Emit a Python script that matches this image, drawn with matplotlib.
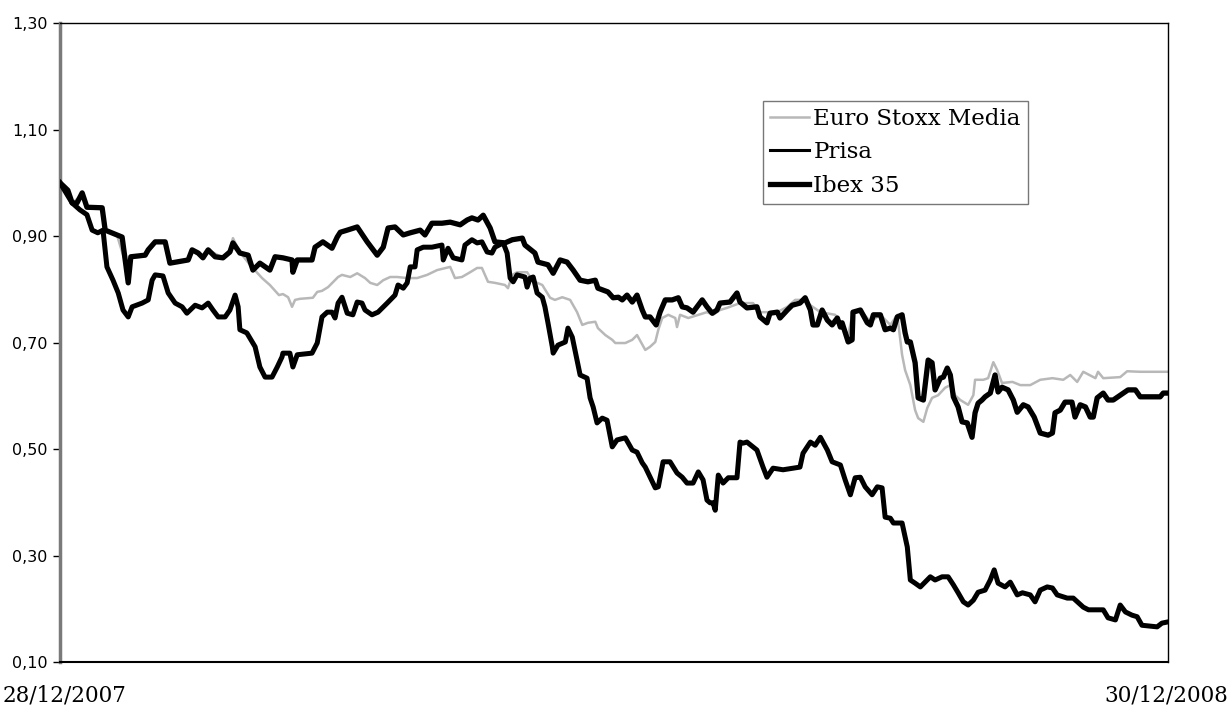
import matplotlib.pyplot as plt
from matplotlib.ticker import FixedLocator, FuncFormatter

# sesiones bursátiles desde 28/12/2007 (0) hasta 30/12/2008 (255), base 1
ibex_dias = [0, 1.8, 2.8, 3.9, 5.1, 6.2, 9.7, 10.4, 13.1, 14.3, 15.0, 15.7, 16.3, 19.6,
             20.3, 21.9, 24.2, 25.3, 29.5, 30.4, 31.8, 32.9, 34.1, 35.7, 37.5, 39.1, 39.8,
             41.4, 43.3, 44.4, 46.0, 48.3, 49.5, 51.3, 53.4, 53.6, 54.6, 58.0, 58.7, 60.5,
             62.6, 63.8, 64.5, 66.1, 68.4, 70.7, 73.0, 74.4, 75.5, 77.1, 79.0, 80.6, 82.9,
             84.0, 85.6, 87.9, 89.8, 92.1, 93.7, 94.8, 96.2, 97.4, 99.0, 100.1, 102.4,
             104.1, 106.4, 107.0, 109.3, 110.0, 112.3, 113.5, 115.1, 116.7, 118.1, 119.7,
             121.5, 123.2, 123.8, 126.1, 127.3, 128.5, 129.4, 130.5, 131.7, 132.8, 134.0,
             134.7, 135.8, 137.2, 138.1, 139.3, 140.9, 142.3, 143.2, 144.3, 145.7, 147.8,
             148.9, 150.1, 151.2, 151.9, 154.2, 155.8, 156.5, 158.1, 160.4, 161.1, 162.7,
             163.4, 165.1, 165.7, 167.4, 168.5, 170.3, 171.5, 172.7, 173.3, 174.3, 175.4,
             176.6, 177.7, 178.9, 179.6, 180.0, 181.4, 182.3, 182.5, 184.2, 185.8, 186.5,
             187.2, 188.8, 189.9, 191.1, 191.8, 192.7, 193.8, 194.5, 195.0, 195.7, 196.8,
             197.5, 198.7, 199.8, 200.7, 201.4, 202.6, 203.3, 204.2, 204.9, 205.6, 206.7,
             207.6, 208.8, 209.9, 210.6, 211.3, 212.2, 212.9, 214.1, 215.2, 215.9, 216.8,
             218.2, 219.4, 220.3, 221.7, 222.8, 224.2, 225.6, 227.4, 228.4, 229.0, 230.2,
             231.3, 232.9, 233.6, 234.8, 236.0, 237.1, 237.8, 238.7, 240.1, 241.2, 242.4,
             244.0, 245.8, 247.5, 248.6, 250.9, 253.2, 253.9, 254.8]
ibex = [1.00, 0.986, 0.962, 0.962, 0.981, 0.954, 0.953, 0.911, 0.902, 0.898, 0.855, 0.812,
        0.861, 0.864, 0.874, 0.889, 0.889, 0.849, 0.855, 0.874, 0.868, 0.859, 0.874, 0.861,
        0.859, 0.870, 0.887, 0.868, 0.864, 0.836, 0.849, 0.836, 0.861, 0.859, 0.855, 0.832,
        0.855, 0.855, 0.879, 0.889, 0.877, 0.898, 0.907, 0.911, 0.917, 0.889, 0.864, 0.879,
        0.915, 0.917, 0.902, 0.906, 0.911, 0.902, 0.924, 0.924, 0.926, 0.921, 0.930, 0.934,
        0.930, 0.939, 0.915, 0.889, 0.887, 0.893, 0.896, 0.883, 0.868, 0.851, 0.846, 0.830,
        0.855, 0.851, 0.836, 0.817, 0.814, 0.817, 0.802, 0.795, 0.784, 0.785, 0.780, 0.789,
        0.776, 0.789, 0.761, 0.748, 0.748, 0.733, 0.757, 0.780, 0.780, 0.784, 0.767, 0.765,
        0.757, 0.780, 0.767, 0.755, 0.761, 0.774, 0.776, 0.793, 0.776, 0.765, 0.767, 0.748,
        0.737, 0.755, 0.757, 0.746, 0.761, 0.770, 0.774, 0.784, 0.761, 0.733, 0.733, 0.761,
        0.742, 0.733, 0.746, 0.729, 0.737, 0.701, 0.705, 0.757, 0.761, 0.737, 0.733, 0.752,
        0.752, 0.724, 0.727, 0.724, 0.748, 0.752, 0.718, 0.701, 0.701, 0.662, 0.596, 0.592,
        0.667, 0.662, 0.611, 0.633, 0.635, 0.652, 0.639, 0.598, 0.579, 0.551, 0.549, 0.522,
        0.568, 0.586, 0.592, 0.598, 0.605, 0.639, 0.607, 0.616, 0.611, 0.592, 0.569, 0.583,
        0.579, 0.560, 0.530, 0.526, 0.530, 0.568, 0.573, 0.588, 0.588, 0.560, 0.583, 0.579,
        0.560, 0.560, 0.596, 0.605, 0.592, 0.592, 0.601, 0.611, 0.611, 0.598, 0.598, 0.598,
        0.605, 0.605]

prisa_dias = [0, 2.8, 4.6, 6.2, 7.4, 8.7, 9.9, 10.8, 12.2, 13.4, 14.5, 15.7, 16.6, 18.9,
              20.3, 21.2, 21.9, 23.7, 24.9, 26.5, 28.1, 29.2, 31.1, 32.7, 34.1, 35.2, 36.4,
              38.0, 39.1, 40.3, 41.0, 41.4, 43.0, 44.9, 46.0, 47.2, 48.8, 50.0, 51.1, 51.3,
              52.9, 53.6, 54.6, 58.0, 59.2, 60.3, 61.5, 62.6, 63.3, 64.0, 64.9, 66.1, 67.4,
              68.4, 69.5, 70.2, 71.8, 73.2, 75.3, 77.1, 77.8, 79.0, 79.9, 80.6, 81.7, 82.2,
              83.6, 85.6, 87.9, 88.2, 89.3, 90.5, 92.5, 93.2, 94.8, 96.0, 97.1, 98.3, 99.4,
              100.1, 102.0, 102.9, 103.6, 104.3, 105.2, 107.0, 107.5, 108.2, 108.9, 109.8,
              111.0, 111.6, 112.3, 113.3, 113.5, 114.6, 116.3, 116.9, 117.9, 119.0, 119.7,
              121.3, 122.0, 122.7, 123.6, 124.8, 125.9, 127.1, 128.2, 130.1, 131.7, 132.8,
              134.0, 134.7, 137.0, 137.7, 138.8, 140.4, 142.0, 143.2, 144.3, 145.7, 146.9,
              148.0, 148.9, 149.6, 150.3, 150.8, 151.5, 152.6, 153.8, 155.8, 156.5, 157.2,
              158.1, 160.4, 161.8, 162.7, 164.1, 166.4, 168.7, 170.3, 171.0, 172.7, 173.8,
              175.0, 176.6, 177.7, 179.6, 180.7, 181.9, 183.0, 184.2, 185.3, 186.9, 188.1,
              189.2, 189.9, 191.1, 191.8, 193.8, 195.0, 195.7, 196.8, 198.0, 199.1, 200.3,
              201.4, 203.0, 204.4, 205.6, 206.7, 207.9, 209.0, 210.2, 211.3, 212.9, 214.1,
              215.0, 215.9, 217.5, 218.7, 220.3, 221.5, 223.3, 224.4, 225.6, 227.2, 228.4,
              229.5, 231.8, 233.2, 235.5, 236.7, 240.1, 241.2, 242.9, 244.0, 245.2, 246.7,
              247.9, 249.0, 252.5, 253.6, 254.8]
prisa = [1.00, 0.962, 0.949, 0.940, 0.911, 0.906, 0.911, 0.842, 0.817, 0.793, 0.761, 0.748,
         0.767, 0.774, 0.780, 0.817, 0.827, 0.825, 0.793, 0.774, 0.767, 0.755, 0.770, 0.765,
         0.774, 0.761, 0.748, 0.748, 0.761, 0.789, 0.767, 0.724, 0.718, 0.692, 0.654, 0.635,
         0.635, 0.654, 0.673, 0.680, 0.680, 0.654, 0.677, 0.680, 0.699, 0.748, 0.757, 0.757,
         0.746, 0.774, 0.785, 0.755, 0.752, 0.776, 0.774, 0.761, 0.752, 0.757, 0.774, 0.789,
         0.808, 0.802, 0.812, 0.842, 0.842, 0.874, 0.879, 0.879, 0.883, 0.855, 0.877, 0.859,
         0.855, 0.883, 0.893, 0.887, 0.889, 0.870, 0.868, 0.879, 0.887, 0.868, 0.821, 0.814,
         0.827, 0.823, 0.804, 0.821, 0.823, 0.793, 0.785, 0.767, 0.737, 0.692, 0.680, 0.695,
         0.701, 0.727, 0.710, 0.667, 0.639, 0.633, 0.596, 0.579, 0.549, 0.558, 0.554, 0.504,
         0.517, 0.521, 0.498, 0.494, 0.474, 0.466, 0.427, 0.429, 0.476, 0.476, 0.455, 0.447,
         0.436, 0.436, 0.457, 0.442, 0.404, 0.399, 0.399, 0.385, 0.451, 0.436, 0.446, 0.446,
         0.513, 0.511, 0.513, 0.498, 0.466, 0.447, 0.464, 0.461, 0.464, 0.466, 0.492, 0.513,
         0.507, 0.522, 0.498, 0.476, 0.470, 0.442, 0.414, 0.446, 0.447, 0.429, 0.414, 0.429,
         0.427, 0.372, 0.370, 0.361, 0.361, 0.316, 0.254, 0.248, 0.241, 0.250, 0.260, 0.254,
         0.260, 0.260, 0.245, 0.230, 0.213, 0.207, 0.216, 0.231, 0.235, 0.254, 0.273, 0.248,
         0.241, 0.250, 0.226, 0.230, 0.226, 0.213, 0.235, 0.241, 0.239, 0.226, 0.220, 0.220,
         0.203, 0.198, 0.198, 0.183, 0.179, 0.207, 0.194, 0.188, 0.185, 0.169, 0.166, 0.173,
         0.175]

media_dias = [0, 2.8, 5.1, 6.2, 9.7, 10.4, 13.1, 15.0, 15.7, 16.3, 19.6, 21.9, 24.2, 25.3,
              29.5, 30.4, 32.9, 34.1, 37.5, 39.1, 39.8, 41.4, 43.7, 46.5, 48.3, 50.4, 51.3,
              52.5, 53.4, 54.1, 55.2, 58.2, 59.2, 60.3, 61.7, 64.0, 64.9, 66.8, 68.4, 70.2,
              71.4, 73.0, 74.4, 76.0, 77.6, 79.9, 82.2, 84.5, 86.8, 89.8, 90.9, 92.5, 94.4,
              96.0, 97.1, 98.5, 100.1, 102.4, 103.1, 104.1, 105.2, 107.5, 108.2, 109.3,
              111.0, 112.8, 113.9, 115.6, 117.4, 119.0, 120.2, 121.5, 123.2, 123.8, 125.5,
              127.1, 127.8, 130.1, 131.7, 132.8, 134.7, 135.8, 137.0, 137.7, 138.6, 140.0,
              141.6, 142.0, 142.7, 144.6, 146.9, 148.9, 150.3, 151.9, 153.5, 156.5, 159.5,
              161.1, 163.4, 165.1, 167.4, 169.2, 171.0, 172.7, 175.0, 178.4, 181.4, 182.5,
              184.2, 186.5, 188.8, 191.1, 192.7, 193.8, 194.5, 195.7, 196.8, 197.5, 198.7,
              199.6, 200.7, 202.1, 203.7, 204.9, 206.0, 207.2, 209.0, 210.2, 210.6, 212.5,
              213.6, 214.8, 215.7, 216.8, 219.2, 221.0, 223.3, 225.6, 228.4, 230.9, 232.5,
              234.1, 235.5, 238.3, 238.9, 240.1, 244.0, 245.6, 248.6, 253.7, 254.8]
media = [1.00, 0.962, 0.977, 0.954, 0.953, 0.911, 0.902, 0.851, 0.817, 0.859, 0.862, 0.887,
         0.887, 0.851, 0.855, 0.874, 0.859, 0.874, 0.859, 0.874, 0.896, 0.870, 0.846, 0.821,
         0.808, 0.789, 0.791, 0.785, 0.767, 0.780, 0.782, 0.784, 0.795, 0.797, 0.804, 0.823,
         0.827, 0.823, 0.830, 0.821, 0.812, 0.808, 0.817, 0.823, 0.823, 0.821, 0.821, 0.827,
         0.836, 0.842, 0.821, 0.823, 0.832, 0.840, 0.840, 0.814, 0.812, 0.808, 0.802, 0.827,
         0.832, 0.832, 0.823, 0.814, 0.808, 0.784, 0.780, 0.785, 0.780, 0.757, 0.733, 0.737,
         0.739, 0.727, 0.714, 0.705, 0.699, 0.699, 0.705, 0.714, 0.686, 0.692, 0.701, 0.724,
         0.746, 0.752, 0.746, 0.729, 0.752, 0.746, 0.752, 0.757, 0.752, 0.761, 0.765, 0.774,
         0.774, 0.757, 0.757, 0.757, 0.767, 0.780, 0.780, 0.770, 0.757, 0.752, 0.714, 0.757,
         0.761, 0.739, 0.752, 0.733, 0.752, 0.677, 0.648, 0.620, 0.573, 0.558, 0.551, 0.577,
         0.596, 0.601, 0.615, 0.620, 0.601, 0.592, 0.583, 0.601, 0.630, 0.630, 0.633, 0.663,
         0.648, 0.624, 0.626, 0.620, 0.620, 0.630, 0.633, 0.630, 0.639, 0.626, 0.645, 0.633,
         0.645, 0.633, 0.635, 0.646, 0.645, 0.645, 0.645]

fecha_ini = '28/12/2007'
fecha_fin = '30/12/2008'
yticks = [0.10, 0.30, 0.50, 0.70, 0.90, 1.10, 1.30]

fig = plt.figure(figsize=(12.29, 7.13), dpi=100)
ax = fig.add_axes([60 / 1229, 1 - 662 / 713, 1108 / 1229, 639 / 713])

ax.plot(media_dias, media, color='#b8b8b8', lw=1.8, label='Euro Stoxx Media')
ax.plot(ibex_dias, ibex, color='black', lw=3.8, solid_joinstyle='round', zorder=3)
ax.plot(prisa_dias, prisa, color='black', lw=3.6, solid_joinstyle='round', zorder=3)

# leyenda: Prisa con trazo fino, Ibex con trazo grueso
ax.plot([], [], color='black', lw=2.2, label='Prisa')
ax.plot([], [], color='black', lw=3.8, label='Ibex 35')

ax.set_xlim(0, 255)
ax.set_ylim(0.10, 1.30)
ax.yaxis.set_major_locator(FixedLocator(yticks))
ax.yaxis.set_major_formatter(FuncFormatter(lambda v, p: f'{v:.2f}'.replace('.', ',')))
ax.set_xticks([])
ax.tick_params(axis='y', direction='out', length=5, width=1, pad=4, labelsize=11.5)

ax.spines['left'].set_color('#7a7a7a')
ax.spines['left'].set_linewidth(2.5)
ax.spines['bottom'].set_linewidth(1.5)
ax.spines['top'].set_linewidth(1.0)
ax.spines['right'].set_linewidth(1.0)

leg = ax.legend(loc='upper left', bbox_to_anchor=(0.6345, 0.878), borderaxespad=0,
                frameon=True, fancybox=False, shadow=False, handlelength=1.7,
                handletextpad=0.2, labelspacing=0.5, borderpad=0.3,
                prop={'family': 'DejaVu Serif', 'size': 16.5})
leg.get_frame().set_edgecolor('#555555')
leg.get_frame().set_linewidth(1.0)

fig.text(3 / 1229, 1 - 701 / 713, fecha_ini, family='DejaVu Serif', fontsize=15.5,
         ha='left', va='baseline')
fig.text(1228 / 1229, 1 - 701 / 713, fecha_fin, family='DejaVu Serif', fontsize=15.5,
         ha='right', va='baseline')

fig.savefig('out.png', dpi=100)
